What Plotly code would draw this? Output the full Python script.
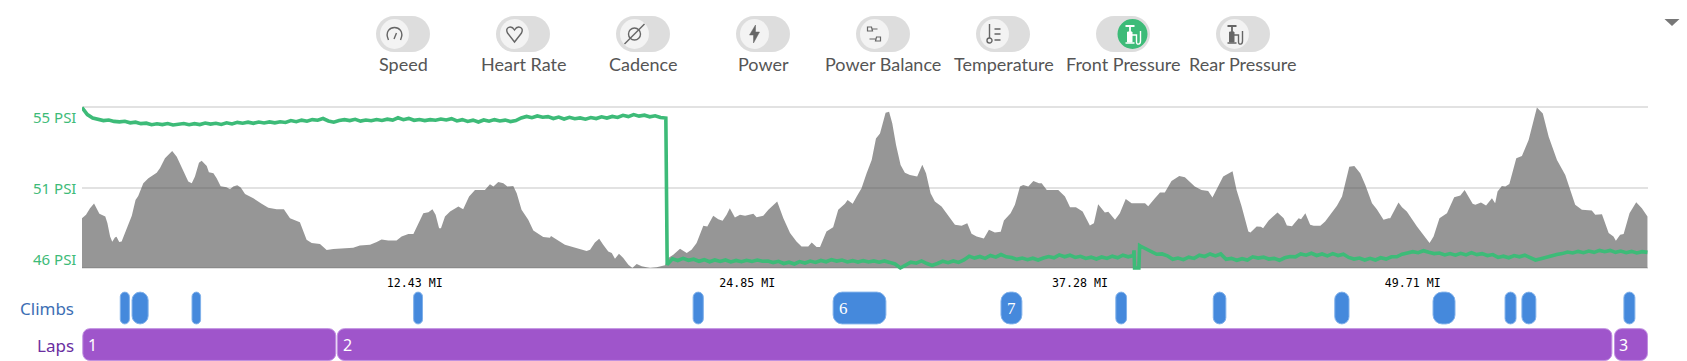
import re
import numpy as np
import plotly.graph_objects as go

# ---------- data ----------
elev_miles = [0,.15,.30,.45,.65,.87,.95,1.05,1.13,1.23,1.29,1.39,1.48,1.64,1.86,2.00,2.10,2.29,2.48,2.79,2.91,3.10,3.37,3.54,3.78,3.97,4.10,4.22,4.37,4.47,4.66,4.74,4.91,5.03,5.18,5.40,5.53,5.65,5.80,5.93,6.09,6.40,6.71,6.96,7.27,7.54,7.77,7.96,8.14,8.39,8.58,8.89,9.14,9.39,9.76,10.13,10.38,10.76,11.01,11.19,11.44,11.75,11.94,12.19,12.38,12.56,12.75,
 12.94,13.09,13.21,13.34,13.41,13.56,13.75,14.06,14.24,14.46,14.68,15.05,15.24,15.37,15.55,15.74,15.89,16.11,16.24,16.42,16.67,16.86,17.23,17.48,17.52,17.73,18.04,18.85,18.98,19.16,19.32,19.47,19.66,19.79,19.91,20.06,20.22,20.41,20.56,20.72,20.91,21.22,21.47,21.78,21.90,22.09,22.34,22.59,22.77,22.96,23.21,23.36,23.58,23.77,23.93,24.08,24.20,24.39,24.58,24.77,25.08,25.20,25.45,25.64,25.97,26.20,26.45,26.69,26.88,27.13,27.26,27.44,27.57,27.81,28.06,28.25,
 28.50,28.60,28.79,28.94,29.12,29.31,29.50,29.66,29.81,30.02,30.15,30.27,30.41,30.58,30.74,30.93,31.20,31.39,31.53,31.70,31.86,32.11,32.36,32.61,32.86,33.07,33.23,33.42,33.69,33.88,34.10,34.32,34.44,34.69,34.85,35.04,35.16,35.35,35.54,35.75,35.85,36.04,36.47,36.72,36.91,37.13,37.38,37.65,37.80,37.96,38.21,38.34,38.59,38.77,38.99,39.21,39.71,39.83,40.08,40.27,40.45,40.70,40.99,41.20,41.57,41.82,42.07,42.23,42.63,42.98,43.13,43.32,43.57,43.65,43.88,
 44.04,44.12,44.33,44.66,44.89,45.01,45.20,45.45,45.54,45.70,45.88,46.01,46.26,46.44,46.88,47.07,47.34,47.53,47.75,47.94,48.19,48.37,48.62,48.81,48.87,49.18,49.31,49.49,49.87,50.34,50.49,50.71,50.99,51.26,51.49,51.65,51.95,52.05,52.26,52.45,52.67,52.79,52.88,53.04,53.17,53.32,53.58,53.79,54.04,54.35,54.57,54.79,55.10,55.41,55.78,56.03,56.40,56.53,56.78,57.03,57.21,57.30,57.46,57.59,57.81,58.06,58.27,58.48]
elevation = [150,160,180,194,163,155,135,95,79,92,94,78,80,110,157,205,217,255,270,287,300,330,352,335,290,260,255,275,317,323,307,288,285,270,246,243,237,245,249,242,223,210,193,181,177,177,150,143,138,85,75,72,54,57,60,61,68,70,78,86,83,83,95,102,102,135,165,
 168,177,160,120,120,155,170,185,177,215,235,235,252,245,259,255,245,247,225,175,145,113,93,91,96,85,70,51,55,77,88,70,50,45,28,43,30,10,0,12,5,0,2,8,30,40,58,45,55,75,127,125,157,147,142,160,180,152,160,157,163,153,157,175,200,150,105,80,65,65,77,63,63,110,123,175,
 193,205,193,215,240,285,325,390,405,467,470,435,370,310,287,280,275,311,285,225,200,185,157,130,127,135,103,95,89,115,107,109,143,165,190,245,250,245,262,255,255,235,235,215,183,183,170,128,135,192,167,169,145,165,208,195,195,186,210,227,227,262,277,273,245,235,232,212,275,291,235,185,110,107,125,
 124,120,143,167,150,128,126,150,147,165,130,127,127,140,187,215,305,307,285,250,195,177,145,150,150,197,183,170,125,75,95,150,165,213,218,235,193,190,197,188,210,195,230,247,245,253,330,337,385,483,465,395,325,280,190,175,173,160,162,105,95,82,100,102,165,198,180,155]

# front tyre pressure (about one reading per 0.2 mi)
psi_before_swap = [56.06,55.62,55.40,55.31,55.24,55.28,55.19,55.16,55.20,55.10,55.14,55.05,55.08,54.98,55.04,54.99,55.06,54.97,55.03,55.06,54.98,55.05,54.99,55.09,55.02,55.07,55.00,55.10,55.03,55.13,55.08,55.14,55.07,55.15,55.09,55.16,55.10,55.17,55.12,55.24,55.17,55.27,55.20,55.30,55.26,55.37,55.22,55.14,55.25,55.30,55.24,55.32,55.21,55.28,55.23,55.31,55.25,55.33,55.27,55.42,55.30,55.38,55.26,55.31,55.24,55.30,55.26,55.34,55.28,55.36,55.22,55.30,55.19,55.27,55.15,55.28,55.20,55.30,55.22,55.27,55.18,55.24,55.41,55.50,55.42,55.53,55.45,55.49,55.37,55.46,55.34,55.45,55.36,55.41,55.33,55.43,55.37,55.48,55.40,55.50,55.44,55.57,55.49,55.62,55.52,55.58,55.48,55.54,55.43,55.40]
psi_after_swap = [46.21,46.58,46.47,46.60,46.48,46.55,46.42,46.52,46.39,46.50,46.41,46.50,46.38,46.47,46.39,46.48,46.41,46.50,46.42,46.44,46.34,46.42,46.28,46.36,46.25,46.40,46.31,46.43,46.35,46.47,46.39,46.52,46.43,46.50,46.38,46.46,46.37,46.46,46.38,46.44,46.36,46.44,46.35,46.25,46.00,46.20,46.36,46.30,46.44,46.28,46.16,46.28,46.42,46.33,46.44,46.35,46.50,46.74,46.62,46.72,46.60,46.78,46.68,46.84,46.70,46.66,46.54,46.62,46.52,46.61,46.50,46.62,46.72,46.64,46.82,46.70,46.80,46.66,46.73,46.60,46.68,46.56,46.69,46.60,46.74,46.64,46.80,46.70,46.78]
psi_dropout_miles = [39.30, 39.32, 39.48, 39.51]
psi_dropout = [47.10, 46.00, 46.00, 47.40]
psi_after_dropout = [47.36,47.20,47.02,46.86,46.88,46.76,46.54,46.62,46.52,46.68,46.60,46.80,46.72,46.88,46.76,46.88,46.54,46.60,46.48,46.58,46.50,46.70,46.62,46.68,46.56,46.60,46.48,46.64,46.72,46.70,46.88,46.80,46.92,46.78,46.88,46.76,46.90,46.78,46.86,46.66,46.56,46.62,46.50,46.60,46.50,46.64,46.56,46.70,46.70,46.86,46.94,47.02,46.96,47.08,46.98,46.90,46.94,46.82,46.90,46.80,46.92,46.82,46.96,46.84,46.90,46.78,46.84,46.66,46.74,46.64,46.78,46.70,46.80,46.62,46.50,46.58,46.68,46.76,46.84,46.90,47.00,46.94,47.04,46.96,47.06,46.98,47.10,47.02,47.10,46.98,47.06,46.96,47.04,46.94,47.02,46.98]
psi_miles = (list(np.linspace(0, 21.81, len(psi_before_swap))) + list(np.linspace(21.86, 39.28, len(psi_after_swap)))
             + psi_dropout_miles + list(np.linspace(39.55, 58.48, len(psi_after_dropout))))
front_psi = psi_before_swap + psi_after_swap + psi_dropout + psi_after_dropout

tick_miles = [12.43, 24.85, 37.28, 49.71]
tick_text = ["12.43 MI", "24.85 MI", "37.28 MI", "49.71 MI"]
psi_labels = ["55 PSI", "51 PSI", "46 PSI"]

climb_start = [1.43,1.87,4.11,12.39,22.83,28.06,34.33,38.62,42.26,46.80,50.47,53.16,53.79,57.60]
climb_end   = [1.77,2.47,4.43,12.72,23.21,30.03,35.11,39.02,42.73,47.33,51.29,53.57,54.31,58.01]
lap_start = [0.03, 9.54, 57.25]
lap_end   = [9.48, 57.15, 58.48]
lap_names = ["1", "2", "3"]
toggle_names = ["Speed","Heart Rate","Cadence","Power","Power Balance","Temperature","Front Pressure","Rear Pressure"]

# ---------- styles ----------
W, H = 1687, 361
GREEN = "#3dbb78"
ICON = "#666666"
fig = go.Figure()

fig.add_trace(go.Scatter(x=elev_miles, y=elevation, mode="lines", yaxis="y", xaxis="x",
                         line=dict(width=0, color="rgba(0,0,0,0)"), fill="tozeroy",
                         fillcolor="rgba(80,80,80,0.6)", hoverinfo="skip", showlegend=False))
fig.add_trace(go.Scatter(x=psi_miles, y=front_psi, mode="lines", yaxis="y2", xaxis="x",
                         line=dict(width=3.6, color=GREEN), cliponaxis=False,
                         hoverinfo="skip", showlegend=False))
fig.add_trace(go.Bar(orientation="h", base=climb_start, x=[e-s for s, e in zip(climb_start, climb_end)],
                     y=["Climbs"]*len(climb_start), xaxis="x", yaxis="y3", width=0.87,
                     marker=dict(color="#4589dc", line=dict(color="#7fb0ea", width=1), cornerradius=9),
                     hoverinfo="skip", showlegend=False))
fig.add_trace(go.Bar(orientation="h", base=lap_start, x=[e-s for s, e in zip(lap_start, lap_end)],
                     y=["Laps"]*len(lap_start), xaxis="x", yaxis="y3", width=0.87,
                     marker=dict(color="#9f55cb", line=dict(color="#c08fe0", width=1), cornerradius=7),
                     hoverinfo="skip", showlegend=False))
# full-page pixel overlay used for the control strip decoration
fig.add_trace(go.Scatter(x=[0], y=[0], xaxis="x4", yaxis="y4", mode="markers",
                         marker=dict(opacity=0), hoverinfo="skip", showlegend=False))

shapes, ann = [], []
def num_shift(path, cx, cy):
    return re.sub(r'(-?[\d.]+),(-?[\d.]+)', lambda m: f"{float(m[1])+cx},{float(m[2])+cy}", path)
def stroke(path, cx, cy, color=ICON, w=1.4, fill=None):
    shapes.append(dict(type="path", xref="x4", yref="y4", path=num_shift(path, cx, cy),
                       line=dict(color=color, width=w), fillcolor=fill or "rgba(0,0,0,0)", layer="above"))
def circ(cx, cy, r, color=ICON, w=1.4, fill=None, rx=None):
    rx = rx or r
    shapes.append(dict(type="circle", xref="x4", yref="y4", x0=cx-rx, x1=cx+rx, y0=cy-r, y1=cy+r,
                       line=dict(color=color, width=w), fillcolor=fill or "rgba(0,0,0,0)", layer="above"))
def pill(x0, x1):
    r = 18
    p = (f"M{x0+r},16 L{x1-r},16 C{x1-8},16 {x1},24 {x1},34 C{x1},44 {x1-8},52 {x1-r},52 "
         f"L{x0+r},52 C{x0+8},52 {x0},44 {x0},34 C{x0},24 {x0+8},16 {x0+r},16 Z")
    shapes.append(dict(type="path", xref="x4", yref="y4", path=p, line=dict(width=0), fillcolor="#dddddd", layer="above"))

pill_left = [376, 496, 616, 736, 856, 976, 1096, 1216]
label_x = [403, 523, 643, 763, 883, 1004, 1123, 1243]
for i, name in enumerate(toggle_names):
    l = pill_left[i]
    pill(l, l+54)
    if name == "Front Pressure":
        cx = l+36.5
        circ(cx, 34, 15, color=GREEN, w=0, fill=GREEN, rx=15)
        c = "#ffffff"
    else:
        cx = l+18.5
        circ(cx, 34, 15, color="#f3f3f3", w=0, fill="#f3f3f3", rx=14.5)
        c = ICON
    if name == "Speed":
        stroke("M-6,6 C-10,-3 -4,-6.5 0,-6.5 C4,-6.5 10,-3 6,6", cx, 34, c)
        stroke("M-0.5,5 L2,-1", cx, 34, c)
    elif name == "Heart Rate":
        stroke("M0,8 L-7,-1 C-10,-7 -3,-9 0,-4 C3,-9 10,-7 7,-1 Z", cx, 34, c)
    elif name == "Cadence":
        circ(cx, 34, 6, c)
        stroke("M-10,10 L10,-10", cx, 34, c)
    elif name == "Power":
        stroke("M1,-9 L-5,1 L-1,1 L-1,9 L5,-2 L1,-2 Z", cx, 34, c, w=0.5, fill=c)
    elif name == "Power Balance":
        stroke("M-7,-7 L-3,-7 L-2,-3 L-7,-3 Z M-2,-5 L3,-5", cx, 34, c, w=1.2)
        stroke("M2,3 L6,3 L6,7 L1,7 Z M-5,5 L1,5", cx, 34, c, w=1.2)
    elif name == "Temperature":
        stroke("M-5,-10 L-5,4", cx, 34, c)
        circ(cx-5, 40.5, 2.5, c)
        stroke("M0,-5 L6,-5 M0,0 L6,0 M0,6 L6,6", cx, 34, c)
    else:
        stroke("M-7,-8 L2,-8 M-2.5,-8 L-2.5,-2", cx, 34, c, w=1.8)
        stroke("M-5,-2 L-0.5,-2 L-0.5,8 L-5,8 Z", cx, 34, c, w=1, fill=c)
        stroke("M-7,9 L2,9 M-0.5,1 L4,1 L4,8 C4,11 8,11 8,7 L8,-3", cx, 34, c, w=1.4)
    ann.append(dict(x=label_x[i], y=64, xref="x4", yref="y4", text=name, showarrow=False,
                    xanchor="center", yanchor="middle",
                    font=dict(family="Lato", size=18, color="#555555")))

# dropdown triangle
shapes.append(dict(type="path", xref="x4", yref="y4", path="M1664.5,19 L1679.5,19 L1672,26 Z",
                   line=dict(width=0), fillcolor="#777777", layer="above"))

for txt, y in zip(psi_labels, [117, 188, 259]):
    ann.append(dict(x=78, y=y, xref="x4", yref="y4", text=txt, showarrow=False, xanchor="right", yanchor="middle",
                    font=dict(family="Noto Sans", size=15, color=GREEN)))
ann.append(dict(x=76, y=308.5, xref="x4", yref="y4", text="Climbs", showarrow=False, xanchor="right", yanchor="middle",
                font=dict(family="Noto Sans", size=17, color="#3d6fb4")))
ann.append(dict(x=76, y=345, xref="x4", yref="y4", text="Laps", showarrow=False, xanchor="right", yanchor="middle",
                font=dict(family="Noto Sans", size=17, color="#6a2ea0")))
for s, name, pos in zip(lap_start, lap_names, [0.41, 9.92, 57.6]):
    ann.append(dict(x=pos, y="Laps", xref="x", yref="y3", text=name, showarrow=False, xanchor="center",
                    font=dict(family="Noto Sans", size=16, color="#ffffff")))
for name, pos in [("6", 28.43), ("7", 34.74)]:
    ann.append(dict(x=pos, y="Climbs", xref="x", yref="y3", text=name, showarrow=False, xanchor="center",
                    font=dict(family="Liberation Serif", size=17, color="#ffffff")))

plot_top, plot_bot = 104.5, 271
fig.update_layout(
    width=W, height=H, autosize=False, margin=dict(l=0, r=0, t=0, b=0),
    paper_bgcolor="white", plot_bgcolor="rgba(0,0,0,0)", barmode="overlay", showlegend=False,
    xaxis=dict(domain=[82/W, 1648/W], range=[0, 58.5], anchor="y3", position=0, tickmode="array", tickvals=tick_miles,
               ticktext=tick_text, showgrid=False, zeroline=False, showline=False, showticklabels=False,
               ticks=""),
    xaxis5=dict(domain=[82/W, 1648/W], range=[0, 58.5], anchor="y", overlaying="x", tickmode="array", tickvals=tick_miles,
               ticktext=tick_text, showgrid=False, zeroline=False, showline=False,
               ticks="outside", ticklen=1, tickcolor="rgba(0,0,0,0)",
               tickfont=dict(family="DejaVu Sans Mono", size=11.6, color="#000000")),
    yaxis=dict(domain=[(H-plot_bot)/H, (H-plot_top)/H], range=[-9, 492], anchor="x", tickmode="array",
               tickvals=[0, 241.5, 483], showticklabels=False, gridcolor="#e2e2e2", gridwidth=2,
               zeroline=False, showline=False),
    yaxis2=dict(domain=[(H-plot_bot)/H, (H-plot_top)/H], range=[45.81, 56.25], overlaying="y", anchor="x",
                visible=False),
    yaxis3=dict(domain=[0, (H-289.75)/H], anchor="x", type="category", categoryorder="array",
                categoryarray=["Laps", "Climbs"], range=[-0.45, 1.5], visible=False),
    xaxis4=dict(domain=[0, 1], range=[0, W], anchor="y4", visible=False),
    yaxis4=dict(domain=[0, 1], range=[H, 0], anchor="x4", visible=False),
    shapes=shapes, annotations=ann,
)
# give the tick-label axis a carrier on the elevation row
fig.add_trace(go.Scatter(x=[0], y=[0], xaxis="x5", yaxis="y", mode="markers", marker=dict(opacity=0),
                         hoverinfo="skip", showlegend=False))
fig.write_html("out.html", config=dict(displayModeBar=False), post_script="document.body.style.margin='0';")
